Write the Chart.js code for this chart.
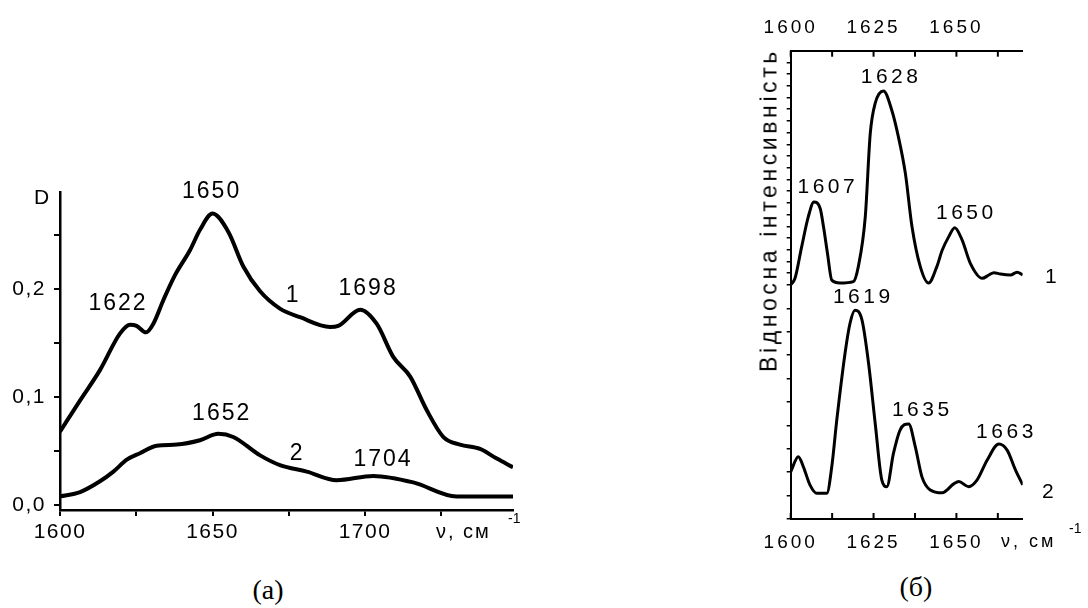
<!DOCTYPE html>
<html>
<head>
<meta charset="utf-8">
<script src="https://cdn.jsdelivr.net/npm/chart.js@4.4.0/dist/chart.umd.min.js"></script>
<style>
  body { margin: 0; background: #fff; width: 1088px; height: 608px; position: relative; overflow: hidden;
         font-family: "Liberation Sans", Arial, sans-serif; color: #000; }
  canvas { position: absolute; }
  .t { position: absolute; white-space: nowrap; line-height: 1; }
  .serif { font-family: "Liberation Serif", "Times New Roman", serif; font-size: 28px; transform: translateX(-50%); }
</style>
</head>
<body>
<canvas id="irChart" width="560" height="420" style="left:0;top:150px"></canvas>
<canvas id="ramanChart" width="348" height="570" style="left:740px;top:0"></canvas>

<div class="t" style="left:34px;top:186px;font-size:21px">D</div>
<div class="t" style="left:436px;top:521px;font-size:20px;letter-spacing:2px">ν, см</div>
<div class="t" style="left:508px;top:511px;font-size:14px">-1</div>
<div class="t" style="left:1001px;top:532px;font-size:18px;letter-spacing:3px">ν, см</div>
<div class="t" style="left:1069px;top:521px;font-size:14px">-1</div>
<div class="t" style="left:769px;top:210px;font-size:23px;letter-spacing:3.6px;transform:translate(-50%,-50%) rotate(-90deg)">Відносна інтенсивність</div>
<div class="t serif" style="left:268px;top:576px">(a)</div>
<div class="t serif" style="left:916px;top:573px">(б)</div>

<script>
// (a) IR absorption, curves 1 and 2
const irX1 = [1600, 1606.6, 1613.1, 1619.7, 1623, 1625.1, 1628.2, 1630.6, 1633.9, 1637.7, 1642.6, 1645.9, 1650, 1655.2, 1660.1, 1665.6, 1672.1, 1678.7, 1688.5, 1691.2, 1698.4, 1703.8, 1709.3, 1714.8, 1720.2, 1725.7, 1731.1, 1737.7, 1743.2, 1748.5];
const irY1 = [0.068, 0.097, 0.125, 0.159, 0.167, 0.166, 0.160, 0.168, 0.190, 0.213, 0.236, 0.255, 0.270, 0.253, 0.221, 0.198, 0.182, 0.174, 0.165, 0.166, 0.181, 0.168, 0.137, 0.119, 0.088, 0.063, 0.056, 0.052, 0.043, 0.035];
const irX2 = [1600, 1606.6, 1613.1, 1617.5, 1621.9, 1626.2, 1631.7, 1638.3, 1645.9, 1651.9, 1656.8, 1665.6, 1672.1, 1680.9, 1690.7, 1702.7, 1715.8, 1730, 1748.5];
const irY2 = [0.008, 0.012, 0.022, 0.031, 0.042, 0.048, 0.055, 0.056, 0.060, 0.066, 0.063, 0.046, 0.037, 0.031, 0.023, 0.027, 0.021, 0.008, 0.008];
const irTicksX = [1600, 1625, 1650, 1675, 1700, 1725];
const irTicksY = [0, 0.05, 0.1, 0.15, 0.2, 0.25];
const irLabelsY = [0, 0.1, 0.2];
// text, x, y (data units)
const irPeaks = [
  ['1650', 1649.7, 0.290], ['1622', 1619.0, 0.187], ['1', 1676.4, 0.194], ['1698', 1701.0, 0.200],
  ['1652', 1653.0, 0.085], ['2', 1677.7, 0.048], ['1704', 1705.9, 0.042]
];

// (б) relative intensity, curves 1 and 2
const ramX1 = [1600, 1601.3, 1603.3, 1605.3, 1607, 1608.9, 1609.9, 1611.1, 1612.4, 1614.9, 1618.9, 1620.4, 1622.5, 1624, 1625.5, 1628, 1630.5, 1632.5, 1634.6, 1636.6, 1639.1, 1641.6, 1644.1, 1645.7, 1647.7, 1649.5, 1651.7, 1654.2, 1657.8, 1659.8, 1661.3, 1663.3, 1666.3, 1668.3, 1670];
const ramY1 = [50.0, 51.4, 58.1, 64.5, 67.7, 66.3, 62.4, 56.7, 51.0, 50.4, 50.7, 53.9, 64.5, 82.3, 88.8, 91.4, 87.3, 81.6, 73.8, 62.4, 53.9, 50.4, 53.9, 57.4, 60.3, 62.2, 59.6, 54.6, 51.4, 52.1, 52.6, 52.3, 52.1, 52.7, 52.1];
const ramX2 = [1600, 1602.3, 1603.8, 1605.8, 1607.9, 1610.9, 1612.4, 1613.9, 1616.4, 1617.9, 1619.4, 1621.5, 1623.5, 1625.5, 1627.5, 1629, 1631, 1633, 1635.6, 1637.6, 1639.6, 1642.1, 1645.7, 1649.2, 1650.7, 1653.7, 1656.2, 1659.3, 1662.8, 1665.3, 1667.8, 1670];
const ramY2 = [10.1, 13.3, 11.2, 7.3, 5.5, 5.5, 11.2, 21.1, 35.4, 41.8, 44.6, 42.5, 33.2, 20.4, 8.3, 6.9, 14.0, 19.0, 20.3, 15.4, 9.0, 6.2, 5.6, 7.5, 8.0, 6.9, 8.3, 12.6, 16.0, 14.7, 10.5, 7.3];
const ramTicksX = [1600, 1612.5, 1625, 1637.5, 1650, 1662.5];
const ramTicksY = [0, 5, 10, 15, 20, 25, 30, 35, 40, 45, 50, 52.5, 55, 57.5, 60, 62.5, 65, 67.5, 70, 72.5, 75, 77.5, 80, 82.5, 85, 87.5, 90, 92.5, 95, 97.5];
const ramPeaks = [
  ['1628', 1630.3, 94.4], ['1607', 1611.2, 70.9], ['1650', 1653.0, 65.3], ['1', 1679.0, 51.7],
  ['1619', 1621.9, 47.4], ['1635', 1639.7, 23.3], ['1663', 1665.1, 18.6], ['2', 1678.1, 5.8]
];

const FONT = '"Liberation Sans", Arial, sans-serif';

function toPoints(xs, ys) {
  return xs.map((x, i) => ({ x: x, y: ys[i] }));
}

function peakPlugin(items, size, spacing) {
  return {
    id: 'peakLabels',
    afterDatasetsDraw(chart) {
      const ctx = chart.ctx;
      ctx.save();
      ctx.font = size + 'px ' + FONT;
      ctx.letterSpacing = spacing + 'px';
      ctx.fillStyle = '#000';
      ctx.textAlign = 'center';
      ctx.textBaseline = 'middle';
      items.forEach(([text, xv, yv]) => {
        ctx.fillText(text, chart.scales.x.getPixelForValue(xv), chart.scales.y.getPixelForValue(yv));
      });
      ctx.restore();
    }
  };
}

function spacingPlugin(spacing) {
  return { id: 'tickSpacing', beforeDraw(chart) { chart.ctx.letterSpacing = spacing + 'px'; } };
}

// ticks pointing into the plot, for panel (б)
const inwardTicks = {
  id: 'inwardTicks',
  afterDraw(chart) {
    const { ctx, chartArea } = chart;
    ctx.save();
    ctx.strokeStyle = '#000';
    ctx.lineWidth = 2;
    ['x', 'x2'].forEach(id => {
      const s = chart.scales[id];
      const y0 = id === 'x' ? chartArea.bottom : chartArea.top;
      const dir = id === 'x' ? -1 : 1;
      s.ticks.forEach(t => {
        const px = s.getPixelForValue(t.value);
        ctx.beginPath();
        ctx.moveTo(px, y0);
        ctx.lineTo(px, y0 + dir * 6);
        ctx.stroke();
      });
    });
    ctx.restore();
  }
};

function lineSet(data, width) {
  return {
    data: data, borderColor: '#000', borderWidth: width, pointRadius: 0,
    fill: false, cubicInterpolationMode: 'monotone'
  };
}

new Chart(document.getElementById('irChart'), {
  type: 'line',
  data: { datasets: [lineSet(toPoints(irX1, irY1), 4), lineSet(toPoints(irX2, irY2), 4)] },
  options: {
    responsive: false, animation: false, devicePixelRatio: 1,
    layout: { padding: { left: 0, top: 42, right: 47, bottom: 0 } },
    plugins: { legend: { display: false }, tooltip: { enabled: false } },
    scales: {
      x: {
        type: 'linear', min: 1600, max: 1748.5,
        afterBuildTicks: s => { s.ticks = irTicksX.map(v => ({ value: v })); },
        afterFit: s => { s.height = 60; },
        ticks: { color: '#000', font: { family: FONT, size: 21 }, padding: 4, maxRotation: 0, autoSkip: false,
                 callback: v => (v % 50 === 0 ? String(v) : '') },
        grid: { drawOnChartArea: false, drawTicks: true, tickLength: 6, color: '#000', lineWidth: 2 },
        border: { display: true, color: '#000', width: 2.5 }
      },
      y: {
        type: 'linear', min: -0.0046, max: 0.29,
        afterBuildTicks: s => { s.ticks = irTicksY.map(v => ({ value: v })); },
        afterFit: s => { s.width = 60; },
        ticks: { color: '#000', font: { family: FONT, size: 21 }, padding: 8, autoSkip: false,
                 callback: v => (irLabelsY.includes(v) ? v.toFixed(1).replace('.', ',') : '') },
        grid: { drawOnChartArea: false, drawTicks: true, tickLength: 6, color: '#000', lineWidth: 2 },
        border: { display: true, color: '#000', width: 2.5 }
      }
    }
  },
  plugins: [spacingPlugin(1.5), peakPlugin(irPeaks, 23, 2)]
});

new Chart(document.getElementById('ramanChart'), {
  type: 'line',
  data: { datasets: [lineSet(toPoints(ramX1, ramY1), 3), lineSet(toPoints(ramX2, ramY2), 3)] },
  options: {
    responsive: false, animation: false, devicePixelRatio: 1,
    layout: { padding: { left: 0, top: 0, right: 65.3, bottom: 0 } },
    plugins: { legend: { display: false }, tooltip: { enabled: false } },
    scales: {
      x: {
        type: 'linear', position: 'bottom', min: 1600, max: 1670,
        afterBuildTicks: s => { s.ticks = ramTicksX.map(v => ({ value: v })); },
        afterFit: s => { s.height = 51; },
        ticks: { color: '#000', font: { family: FONT, size: 19 }, padding: 12, maxRotation: 0, autoSkip: false,
                 callback: v => (v % 25 === 0 ? String(v) : '') },
        grid: { drawOnChartArea: false, drawTicks: false },
        border: { display: true, color: '#000', width: 2 }
      },
      x2: {
        type: 'linear', position: 'top', min: 1600, max: 1670,
        afterBuildTicks: s => { s.ticks = ramTicksX.map(v => ({ value: v })); },
        afterFit: s => { s.height = 50.7; },
        ticks: { color: '#000', font: { family: FONT, size: 19 }, padding: 12, maxRotation: 0, autoSkip: false,
                 callback: v => (v % 25 === 0 ? String(v) : '') },
        grid: { drawOnChartArea: false, drawTicks: false },
        border: { display: true, color: '#000', width: 2 }
      },
      y: {
        type: 'linear', min: 0, max: 100,
        afterBuildTicks: s => { s.ticks = ramTicksY.map(v => ({ value: v })); },
        afterFit: s => { s.width = 50.7; },
        ticks: { autoSkip: false, callback: () => '' },
        grid: { drawOnChartArea: false, drawTicks: true, tickLength: 4, color: '#000', lineWidth: 1.5 },
        border: { display: true, color: '#000', width: 2 }
      }
    }
  },
  plugins: [spacingPlugin(3), inwardTicks, peakPlugin(ramPeaks, 21, 3.5)]
});
</script>
</body>
</html>
